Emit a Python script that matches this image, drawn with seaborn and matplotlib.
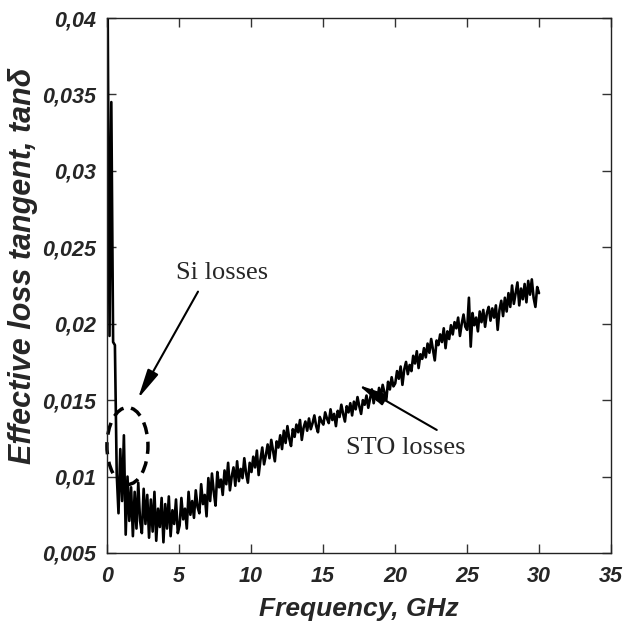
import numpy as np
import matplotlib
matplotlib.use("Agg")
from matplotlib import pyplot as plt
from matplotlib.patches import Ellipse
import seaborn as sns

# measured sweep: 241 points, 0.05 .. 30 GHz, uniform step
freq_ghz = np.linspace(0.05, 30, 241)

# effective loss tangent (8 points per GHz)
tan_delta = [
    0.0400, 0.0192, 0.0345, 0.0188, 0.0186, 0.0102, 0.0076, 0.0118,
    0.0084, 0.0127, 0.0062, 0.0100, 0.0071, 0.0093, 0.0061, 0.0090,
    0.0066, 0.0096, 0.0071, 0.0063, 0.0092, 0.0069, 0.0088, 0.0060,
    0.0085, 0.0064, 0.0090, 0.0058, 0.0079, 0.0067, 0.0086, 0.0057,
    0.0082, 0.0066, 0.0087, 0.0061, 0.0078, 0.0069, 0.0085, 0.0063,
    0.0068, 0.0086, 0.0072, 0.0079, 0.0066, 0.0090, 0.0075, 0.0084,
    0.0073, 0.0091, 0.0080, 0.0076, 0.0095, 0.0082, 0.0088, 0.0074,
    0.0099, 0.0084, 0.0102, 0.0090, 0.0081, 0.0103, 0.0093, 0.0098,
    0.0088, 0.0104, 0.0095, 0.0109, 0.0091, 0.0100, 0.0106, 0.0094,
    0.0110, 0.0097, 0.0105, 0.0099, 0.0112, 0.0102, 0.0096, 0.0109,
    0.0103, 0.0113, 0.0106, 0.0117, 0.0101, 0.0111, 0.0119, 0.0108,
    0.0114, 0.0121, 0.0112, 0.0124, 0.0117, 0.0110, 0.0123, 0.0119,
    0.0127, 0.0118, 0.0130, 0.0122, 0.0133, 0.0125, 0.0120, 0.0131,
    0.0126, 0.0134, 0.0129, 0.0137, 0.0124, 0.0132, 0.0136, 0.0130,
    0.0138, 0.0131, 0.0135, 0.0140, 0.0133, 0.0129, 0.0139, 0.0136,
    0.0134, 0.0142, 0.0138, 0.0135, 0.0144, 0.0137, 0.0141, 0.0133,
    0.0143, 0.0139, 0.0147, 0.0141, 0.0136, 0.0146, 0.0142, 0.0148,
    0.0140, 0.0149, 0.0144, 0.0152, 0.0146, 0.0141, 0.0150, 0.0147,
    0.0153, 0.0145, 0.0151, 0.0157, 0.0148, 0.0155, 0.0150, 0.0158,
    0.0152, 0.0160, 0.0155, 0.0150, 0.0162, 0.0157, 0.0165, 0.0159,
    0.0161, 0.0169, 0.0164, 0.0172, 0.0160, 0.0170, 0.0175, 0.0167,
    0.0173, 0.0169, 0.0179, 0.0174, 0.0182, 0.0171, 0.0180, 0.0177,
    0.0184, 0.0178, 0.0187, 0.0181, 0.0190, 0.0183, 0.0176, 0.0189,
    0.0186, 0.0193, 0.0188, 0.0197, 0.0184, 0.0195, 0.0190, 0.0199,
    0.0193, 0.0201, 0.0197, 0.0204, 0.0192, 0.0200, 0.0206, 0.0198,
    0.0196, 0.0217, 0.0185, 0.0207, 0.0199, 0.0204, 0.0195, 0.0208,
    0.0201, 0.0209, 0.0198, 0.0207, 0.0211, 0.0202, 0.0210, 0.0204,
    0.0212, 0.0196, 0.0209, 0.0215, 0.0205, 0.0217, 0.0208, 0.0220,
    0.0211, 0.0225, 0.0213, 0.0220, 0.0227, 0.0212, 0.0223, 0.0216,
    0.0226, 0.0214, 0.0228, 0.0219, 0.0229, 0.0217, 0.0211, 0.0224,
    0.0220,
]

x_ticks = [0, 5, 10, 15, 20, 25, 30, 35]
x_ticklabels = ["0", "5", "10", "15", "20", "25", "30", "35"]
y_ticks = [0.005, 0.01, 0.015, 0.02, 0.025, 0.03, 0.035, 0.04]
y_ticklabels = ["0,005", "0,01", "0,015", "0,02", "0,025", "0,03", "0,035", "0,04"]

sns.set_style("ticks")
plt.rcParams['font.family'] = ['Liberation Sans', 'DejaVu Sans']

fig = plt.figure(figsize=(6.37, 6.32), dpi=100)
ax = fig.add_axes([107 / 637, 79 / 632, 504 / 637, 535 / 632])

sns.lineplot(x=freq_ghz, y=tan_delta, color='black', linewidth=1.9, ax=ax)

ax.set_xlim(0, 35)
ax.set_ylim(0.005, 0.04)
ax.set_xticks(x_ticks)
ax.set_xticklabels(x_ticklabels)
ax.set_yticks(y_ticks)
ax.set_yticklabels(y_ticklabels)
ax.tick_params(direction='in', top=True, right=True, length=6.5, width=1, color='#333333')
ax.tick_params(axis='x', pad=9)
ax.tick_params(axis='y', pad=8)
for lab in ax.get_xticklabels() + ax.get_yticklabels():
    lab.set_fontsize(15.5)
    lab.set_fontweight('bold')
    lab.set_fontstyle('italic')
for sp in ax.spines.values():
    sp.set_visible(True)
    sp.set_linewidth(1)
    sp.set_color('#222222')

ax.set_xlabel('Frequency, GHz', fontsize=19, fontweight='bold', fontstyle='italic')
ax.set_ylabel('Effective loss tangent, tan\u03b4', fontsize=22, fontweight='bold', fontstyle='italic')
ax.xaxis.set_label_coords(0.5, -0.082)
ax.yaxis.set_label_coords(-0.137, 0.536)

# annotations
serif = ['Liberation Serif', 'DejaVu Serif']
ax.text(7.99, 0.0233, 'Si losses', fontsize=19, family=serif, ha='center', va='center')
ax.text(20.76, 0.0119, 'STO losses', fontsize=19, family=serif, ha='center', va='center')
ax.annotate('', xy=(2.15, 0.0151), xytext=(6.32, 0.0221),
            arrowprops=dict(arrowstyle='-|>,head_length=1.0,head_width=0.2',
                            color='black', lw=1.5, mutation_scale=18, shrinkA=0, shrinkB=0))
ax.annotate('', xy=(17.45, 0.0160), xytext=(22.9, 0.01305),
            arrowprops=dict(arrowstyle='-|>,head_length=1.0,head_width=0.2',
                            color='black', lw=1.5, mutation_scale=18, shrinkA=0, shrinkB=0))
ax.add_patch(Ellipse((1.42, 0.0120), 2.85, 0.00504, fill=False, edgecolor='black',
                     linewidth=2.5, linestyle=(0, (3.5, 2.2)), clip_on=False))

plt.savefig('out.png', dpi=100)
